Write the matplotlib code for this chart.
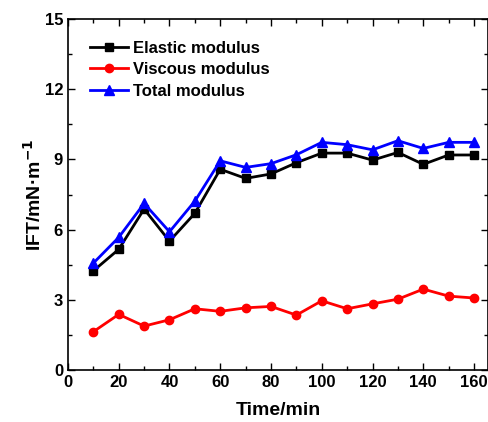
import numpy as np
import matplotlib
matplotlib.use("Agg")
import matplotlib.pyplot as plt
from matplotlib.ticker import MultipleLocator

plt.rcParams['font.family'] = ['Liberation Sans', 'DejaVu Sans']
plt.rcParams['font.weight'] = 'bold'

# moduli vs time
time = [10, 20, 30, 40, 50, 60, 70, 80, 90, 100, 110, 120, 130, 140, 150, 160]
elastic = [4.24, 5.16, 6.88, 5.51, 6.70, 8.58, 8.19, 8.38, 8.86, 9.27, 9.27, 8.97, 9.30, 8.79, 9.19, 9.19]
viscous = [1.64, 2.38, 1.88, 2.15, 2.62, 2.51, 2.66, 2.72, 2.35, 2.96, 2.62, 2.83, 3.03, 3.46, 3.16, 3.08]
total = [4.57, 5.67, 7.12, 5.91, 7.22, 8.94, 8.66, 8.82, 9.20, 9.73, 9.63, 9.41, 9.80, 9.47, 9.73, 9.73]

fig = plt.figure(figsize=(4.89, 4.22), dpi=100)
ax = fig.add_axes([0.139, 0.123, 0.859, 0.832])

ax.plot(time, elastic, '-s', color='black', lw=2, ms=6, label='Elastic modulus')
ax.plot(time, viscous, '-o', color='red', lw=2, ms=6, label='Viscous modulus')
ax.plot(time, total, '-^', color='blue', lw=2, ms=6.5, label='Total modulus')

ax.set_xlim(0, 165.5)
ax.set_ylim(0, 15)
ax.xaxis.set_major_locator(MultipleLocator(20))
ax.xaxis.set_minor_locator(MultipleLocator(10))
ax.yaxis.set_major_locator(MultipleLocator(3))
ax.yaxis.set_minor_locator(MultipleLocator(1.5))
ax.tick_params(which='both', direction='in', top=True, right=True, labelsize=12, width=1)
ax.tick_params(which='major', length=5)
ax.tick_params(which='minor', length=3)
for s in ax.spines.values():
    s.set_linewidth(1.2)

ax.set_xlabel('Time/min', fontsize=14, fontweight='bold', labelpad=9)
ax.set_ylabel('IFT/mN·m$^{\\mathbf{-1}}$', fontsize=14, fontweight='bold', labelpad=0)

ax.legend(loc='upper left', frameon=False, fontsize=12, handlelength=2.3,
          handletextpad=0.3, labelspacing=0.4, borderaxespad=0.9)

fig.savefig('out.png', dpi=100)
